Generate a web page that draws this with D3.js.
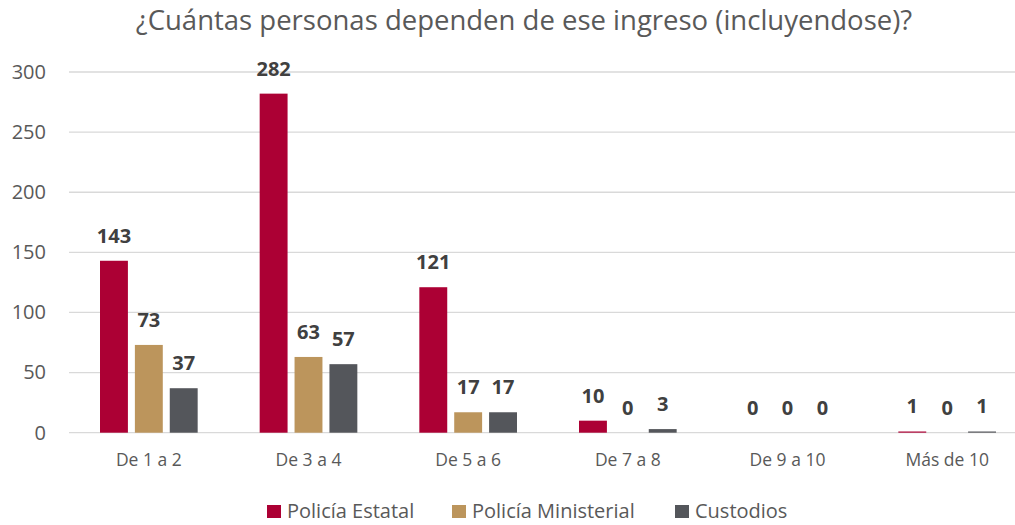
<!DOCTYPE html>
<html>
<head>
<meta charset="utf-8">
<script src="https://cdn.jsdelivr.net/npm/d3@7"></script>
<style>
  body { margin: 0; background: #fff; }
  svg { display: block; }
  text { font-family: "Open Sans", "Noto Sans", sans-serif; }
</style>
</head>
<body>
<svg id="chart" width="1015" height="525"></svg>
<script>
const categories = ["De 1 a 2", "De 3 a 4", "De 5 a 6", "De 7 a 8", "De 9 a 10", "Más de 10"];
const seriesNames = ["Policía Estatal", "Policía Ministerial", "Custodios"];
const estatal = [143, 282, 121, 10, 0, 1];
const ministerial = [73, 63, 17, 0, 0, 0];
const custodios = [37, 57, 17, 3, 0, 1];
const yTicks = [0, 50, 100, 150, 200, 250, 300];
const colors = ["#AC0034", "#BC955C", "#54565B"];
const titleText = "¿Cuántas personas dependen de ese ingreso (incluyendose)?";

const seriesValues = [estatal, ministerial, custodios];

const width = 1015, height = 525;
const svg = d3.select("#chart");

// plot area runs a little past the right edge, like the original
const x0 = d3.scaleBand().domain(categories).range([69, 1027]).padding(0);
const x1 = d3.scaleBand().domain(seriesNames)
  .range([31, x0.bandwidth() - 31]).paddingInner(0.2).paddingOuter(0);
const y = d3.scaleLinear().domain([0, 300]).range([432.7, 72]);

// title
svg.append("text")
  .attr("x", 524).attr("y", 30)
  .attr("text-anchor", "middle")
  .style("font-size", "27.5px")
  .style("fill", "#595959")
  .text(titleText);

// gridlines
svg.append("g").selectAll("line")
  .data(yTicks)
  .join("line")
  .attr("x1", 69).attr("x2", width)
  .attr("y1", d => y(d)).attr("y2", d => y(d))
  .attr("stroke", "#D9D9D9")
  .attr("stroke-width", 1.3);

// y axis labels
const yAxis = svg.append("g")
  .attr("transform", "translate(46,0)")
  .call(d3.axisLeft(y).tickValues(yTicks).tickSize(0).tickPadding(0));
yAxis.select(".domain").remove();
yAxis.selectAll("text")
  .style("font-size", "20px")
  .style("fill", "#595959")
  .style("font-family", "'Open Sans', sans-serif");

// x axis labels
const xAxis = svg.append("g")
  .attr("transform", "translate(0,432.7)")
  .call(d3.axisBottom(x0).tickSize(0).tickPadding(21));
xAxis.select(".domain").remove();
xAxis.selectAll("text")
  .style("font-size", "17.5px")
  .style("fill", "#595959")
  .style("font-family", "'Open Sans', sans-serif");

// bars
const rows = categories.map((c, i) => ({
  cat: c,
  vals: seriesNames.map((s, j) => ({ name: s, value: seriesValues[j][i], color: colors[j] }))
}));

const groups = svg.append("g").selectAll("g")
  .data(rows)
  .join("g")
  .attr("transform", d => "translate(" + x0(d.cat) + ",0)");

groups.selectAll("rect")
  .data(d => d.vals)
  .join("rect")
  .attr("x", d => x1(d.name))
  .attr("width", x1.bandwidth())
  .attr("y", d => y(d.value))
  .attr("height", d => y(0) - y(d.value))
  .attr("fill", d => d.color);

groups.selectAll("text")
  .data(d => d.vals)
  .join("text")
  .attr("x", d => x1(d.name) + x1.bandwidth() / 2)
  .attr("y", d => y(d.value) - 18)
  .attr("text-anchor", "middle")
  .style("font-size", "20px")
  .style("font-weight", "bold")
  .style("fill", "#404040")
  .text(d => d.value);

// legend
const legendX = [267, 452, 675];
const legend = svg.append("g").selectAll("g")
  .data(seriesNames)
  .join("g")
  .attr("transform", (d, i) => "translate(" + legendX[i] + ",505)");
legend.append("rect")
  .attr("width", 14).attr("height", 13)
  .attr("fill", (d, i) => colors[i]);
legend.append("text")
  .attr("x", 20).attr("y", 13)
  .style("font-size", "20px")
  .style("fill", "#595959")
  .text(d => d);
</script>
</body>
</html>
